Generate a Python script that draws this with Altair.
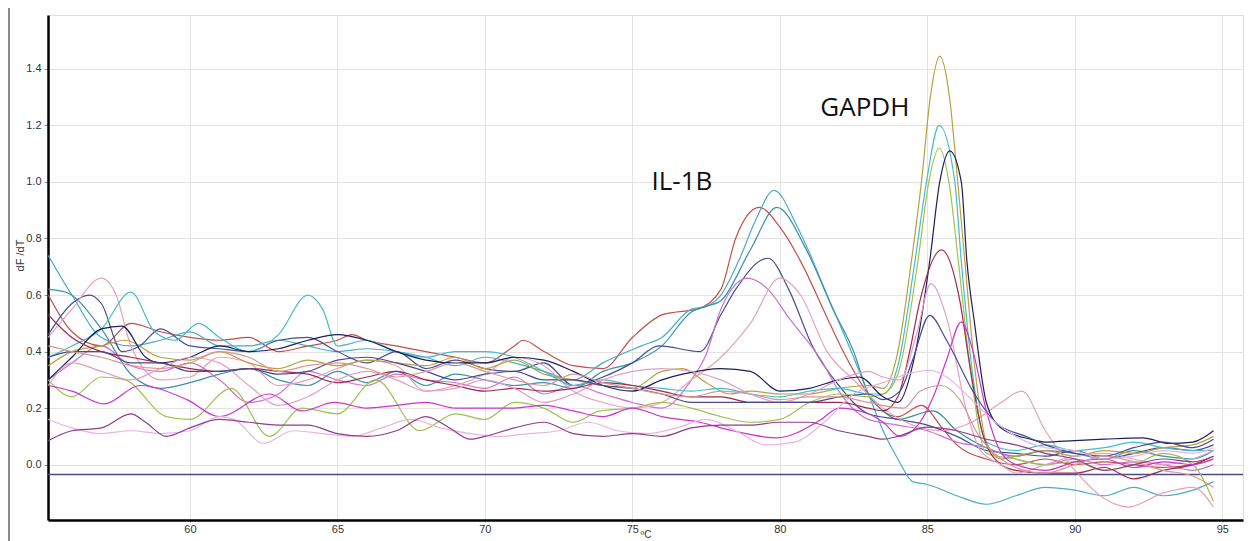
import altair as alt
import pandas as pd

# ---------------- data ----------------
t_s1 = [55.2,56,57,58,59,60,61,62,63,64,65,65.5,66,67,68,69,70,71,71.3,72,73,74,75,76,76.5,77.2,78,78.5,79.3,80,80.7,81.6,82.1,83,83.5,84,84.8,85.5,86,87,88,89,90,91,92,93,94,94.7]
v_s1 = [0.60,0.47,0.42,0.50,0.47,0.45,0.44,0.45,0.40,0.42,0.44,0.46,0.44,0.42,0.40,0.38,0.36,0.42,0.44,0.40,0.35,0.34,0.45,0.53,0.54,0.55,0.62,0.80,0.91,0.84,0.72,0.52,0.41,0.25,0.19,0.17,0.21,0.13,0.07,0.02,0.0,0.02,0.0,0.01,0.0,-0.01,0.0,0.02]

t_s2 = [55.2,56,57,58,59,60,61,62,63,64,65,66,67,68,69,70,71,72,73,74,75.3,76,77,77.5,78,78.6,79.2,79.8,80.6,81.6,82.5,83,83.5,84,84.5,85,86,87,88,89,90,91,92,93,94,94.7]
v_s2 = [0.74,0.60,0.45,0.42,0.44,0.47,0.42,0.42,0.44,0.42,0.40,0.41,0.40,0.38,0.35,0.38,0.36,0.33,0.30,0.36,0.42,0.45,0.55,0.56,0.60,0.72,0.87,0.97,0.84,0.60,0.38,0.25,0.12,0.02,-0.06,-0.07,-0.11,-0.14,-0.11,-0.08,-0.09,-0.11,-0.08,-0.11,-0.09,-0.06]

t_s3 = [55.2,55.8,57,58,59,60,61,62,63,64,65,66,67,68,69,70,71,72,73,74,75,76,77,77.5,78,79,79.9,80.9,81.8,82.5,83,83.5,84,85.2,86,87,88,89,90,91,92,93,94,94.7]
v_s3 = [0.62,0.61,0.48,0.32,0.27,0.29,0.32,0.34,0.30,0.28,0.33,0.29,0.33,0.28,0.32,0.30,0.28,0.29,0.27,0.33,0.36,0.42,0.54,0.56,0.58,0.76,0.91,0.76,0.55,0.40,0.25,0.19,0.16,0.19,0.12,0.06,0.03,0.05,0.04,0.02,0.05,0.03,0.02,0.05]

t_s4 = [55.2,56,56.6,57,57.7,58.3,59,60,61,62,63,64,65,66,67,68,69,70,71,72,73,74,75,75.9,77.3,78,78.5,79.6,80.3,81.1,82,83,84,85,86,87,88,89,90,91,92,93,94,94.7]
v_s4 = [0.46,0.57,0.60,0.57,0.40,0.42,0.48,0.42,0.41,0.40,0.44,0.45,0.40,0.36,0.40,0.34,0.37,0.34,0.33,0.36,0.28,0.31,0.36,0.42,0.40,0.53,0.62,0.73,0.62,0.42,0.28,0.18,0.16,0.14,0.10,0.05,0.04,0.03,0.05,0.02,0.04,0.06,0.05,0.07]

t_s5 = [55.2,56,57,58,59,60,61,62,63,64,65,66,67,68,69,70,71,72,73,74,75,76,77,77.5,78,78.9,79.6,80.3,81.4,82,83,84,85,86,87,88,89,90,91,92,93,94,94.7]
v_s5 = [0.30,0.36,0.42,0.35,0.33,0.36,0.30,0.22,0.25,0.33,0.30,0.28,0.32,0.30,0.29,0.27,0.31,0.25,0.28,0.25,0.22,0.20,0.30,0.39,0.55,0.66,0.62,0.52,0.37,0.26,0.16,0.14,0.12,0.08,0.06,0.02,0.0,0.02,0.0,0.01,0.0,-0.02,0.0]

t_s6 = [55.2,56,57,57.5,58,59,60,61,62,63,64,65,66,67,68,69,70,71,72,73,74,75,76,77,77.9,79,80,80.7,81.6,82.5,83.5,84.5,85.5,86.5,87.5,88.2,89,90,91,91.8,93,94,94.7]
v_s6 = [0.45,0.55,0.66,0.60,0.42,0.30,0.31,0.38,0.36,0.28,0.30,0.34,0.37,0.35,0.26,0.28,0.32,0.38,0.35,0.26,0.22,0.20,0.22,0.30,0.37,0.50,0.66,0.60,0.40,0.30,0.20,0.14,0.12,0.15,0.22,0.26,0.12,-0.02,-0.12,-0.15,-0.10,-0.08,-0.15]

t_s7 = [55.2,56,57,57.8,59,60,61,62,63,64,65,66,67,68,69,70,71,72,73,74,75,76,76.7,77.5,78.3,79,80,81,82,83,83.5,84,84.46,84.8,85.1,85.42,85.75,86.03,86.27,86.6,87,87.5,88,89,90,91,92,93,94,94.7]
v_s7 = [0.35,0.40,0.42,0.44,0.38,0.37,0.40,0.36,0.34,0.37,0.35,0.37,0.36,0.35,0.38,0.34,0.37,0.32,0.30,0.28,0.27,0.33,0.34,0.29,0.25,0.26,0.25,0.25,0.27,0.28,0.27,0.40,0.72,1.00,1.30,1.445,1.30,1.00,0.72,0.35,0.08,0.02,0.03,0.05,0.03,0.05,0.04,0.06,0.07,0.10]

t_s8 = [55.2,56,57,58,58.8,59.5,60.3,61,62,63,64,64.5,65,66,67,68,69,70,71,72,73,74,75,76,77,78,79,80,81,82,83,83.5,84,84.58,84.97,85.4,85.93,86.15,86.5,87,88,89,90,91,92,93,94,94.7]
v_s8 = [0.38,0.42,0.48,0.61,0.47,0.44,0.50,0.45,0.40,0.46,0.60,0.55,0.42,0.44,0.40,0.38,0.40,0.40,0.38,0.33,0.28,0.30,0.28,0.27,0.26,0.27,0.25,0.24,0.26,0.27,0.25,0.25,0.35,0.72,1.00,1.20,1.00,0.72,0.35,0.08,0.05,0.07,0.05,0.06,0.08,0.06,0.05,0.05]

t_s9 = [55.2,56,57,57.8,59.2,60,61.4,62.7,63.8,65,66.3,67.8,69,70,71,72,73,73.9,75,76,77,78,79,80,81,82,83,83.5,84,84.68,85.05,85.4,85.73,86.05,86.5,87,88,89,90,91,92,93,94,94.7]
v_s9 = [0.30,0.24,0.31,0.30,0.17,0.16,0.27,0.10,0.20,0.18,0.30,0.12,0.18,0.16,0.22,0.20,0.15,0.19,0.20,0.22,0.20,0.17,0.15,0.16,0.22,0.25,0.24,0.25,0.32,0.72,1.00,1.12,1.00,0.72,0.30,0.04,0.02,0.0,0.01,-0.02,0.0,0.04,0.0,-0.13]

t_s10 = [55.2,56,57,57.7,58.5,59,60,61,62,63,64,65,66,67,68,69,70,71,72,73,74,75,76,76.7,78,79,80,81,82,82.7,83.5,84,84.6,85.08,85.42,85.76,86.15,86.34,86.6,87,87.5,88.5,89,90,91,92.3,93.2,94,94.7]
v_s10 = [0.30,0.38,0.48,0.49,0.38,0.36,0.38,0.42,0.40,0.41,0.44,0.46,0.44,0.40,0.37,0.36,0.36,0.38,0.37,0.33,0.28,0.26,0.30,0.32,0.34,0.33,0.26,0.27,0.30,0.31,0.24,0.22,0.40,0.72,1.00,1.11,1.00,0.72,0.50,0.22,0.13,0.09,0.08,0.085,0.09,0.095,0.075,0.08,0.12]

t_s11 = [55.2,56,57,58,59,60,61,62,63,64,65,66,67,68,69,70,71,72,73,74,75,76,77,78,79,80,81,82,83,83.5,84,84.4,84.75,85.48,86.1,86.44,86.9,87.5,88,89,90,91,92,93,94,94.7]
v_s11 = [0.53,0.45,0.40,0.38,0.36,0.34,0.33,0.34,0.33,0.32,0.29,0.31,0.33,0.30,0.28,0.26,0.27,0.26,0.27,0.29,0.28,0.26,0.24,0.24,0.22,0.22,0.22,0.22,0.20,0.19,0.24,0.40,0.58,0.76,0.58,0.35,0.10,0.0,-0.02,-0.03,-0.03,-0.01,-0.05,-0.02,0.0,0.03]

t_s12 = [55.2,56,57,58,59,60,61,62,63,64,65,66,67,68,69,70,71,72,73,74,75,76,77,78,79,80,81,82,83,83.5,84.07,84.63,85.12,85.65,86.33,86.8,87.5,88,89,90,91,92,93,94,94.7]
v_s12 = [0.28,0.36,0.33,0.30,0.34,0.38,0.36,0.28,0.21,0.24,0.30,0.33,0.30,0.26,0.27,0.30,0.27,0.22,0.25,0.30,0.33,0.34,0.33,0.30,0.25,0.22,0.25,0.30,0.33,0.31,0.30,0.46,0.64,0.52,0.19,0.05,0.0,-0.03,0.0,0.03,0.04,0.02,0.0,0.02,0.05]

t_s13 = [55.2,56,57,58,59,60,61,62,63,64,65,66,67,68,69,70,71,72,73,74,75,76,77,78,79,80,81,82,83,83.5,84.07,84.5,85.08,85.65,86.6,87.35,88.4,89,90,91,92,93,94,94.7]
v_s13 = [0.38,0.40,0.40,0.36,0.36,0.33,0.33,0.34,0.32,0.33,0.37,0.38,0.36,0.33,0.30,0.32,0.33,0.30,0.30,0.28,0.27,0.25,0.22,0.22,0.22,0.22,0.22,0.24,0.25,0.23,0.26,0.37,0.528,0.44,0.25,0.146,0.098,0.07,0.04,0.03,0.06,0.08,0.06,0.09]

t_s14 = [55.2,56,57.1,58.3,59.9,61,62.7,63.8,64.9,66,67,68,69,70,71,72,73,74,75,76,77.3,78.4,79.9,81.4,82,83,83.5,84.07,84.75,85.2,85.65,86.15,86.55,87,87.46,88,89,90,91,92,93,94,94.7]
v_s14 = [0.28,0.26,0.215,0.28,0.23,0.17,0.25,0.19,0.22,0.20,0.21,0.22,0.20,0.20,0.20,0.21,0.19,0.17,0.20,0.17,0.15,0.12,0.095,0.16,0.20,0.18,0.15,0.10,0.15,0.24,0.37,0.505,0.40,0.19,0.05,0.0,-0.02,0.01,0.02,-0.01,0.01,0.0,0.02]

t_s15 = [55.2,56,57,58,59,60,61,61.5,62.5,63.5,64.5,65.5,66.5,67.5,68.5,69.5,70.5,71.5,72.5,73.5,74.5,75.5,76.5,77.5,78.5,79.5,80.5,81.5,82.5,83.5,84.3,85.1,85.65,86.5,87.35,88,89,90,91,92,93,94,94.7]
v_s15 = [0.16,0.13,0.11,0.12,0.11,0.12,0.17,0.16,0.075,0.12,0.11,0.10,0.13,0.16,0.13,0.11,0.10,0.11,0.12,0.15,0.12,0.11,0.13,0.16,0.12,0.07,0.08,0.15,0.25,0.29,0.32,0.334,0.31,0.23,0.146,0.10,0.06,0.05,0.02,0.03,0.05,0.04,0.06]

t_s16 = [55.2,56,57,58,59,60,61,62,63,64,65,66,67,68,69,70,71,72,73,74,75,76,77,78,79,80,81,82,83,84.2,84.75,85.47,86.1,86.7,87.5,88,89,90,91,92,93,94,94.7]
v_s16 = [0.42,0.40,0.38,0.35,0.34,0.36,0.40,0.38,0.33,0.35,0.36,0.34,0.31,0.33,0.36,0.33,0.30,0.28,0.32,0.29,0.27,0.25,0.24,0.26,0.25,0.23,0.24,0.24,0.22,0.20,0.26,0.28,0.23,0.11,0.02,-0.01,-0.03,0.0,0.03,0.01,-0.02,-0.04,-0.08]

t_s17 = [55.2,56,57,58,58.5,59.2,60,61,62,63,64,65,66,67,68,68.8,69.5,70,71,72,73,74,75,76,77,78,79,80,81,82,83,83.5,84,85,86,87,88,89,90,91,92,93,94,94.7]
v_s17 = [0.085,0.12,0.13,0.18,0.15,0.10,0.13,0.16,0.15,0.14,0.14,0.11,0.10,0.12,0.17,0.13,0.09,0.10,0.13,0.15,0.11,0.10,0.11,0.10,0.13,0.14,0.14,0.15,0.15,0.12,0.10,0.09,0.10,0.133,0.12,0.09,0.07,0.04,0.02,-0.02,0.0,0.02,0.01,0.03]

series_names = ["s1", "s2", "s3", "s4", "s5", "s6", "s7", "s8", "s9",
                "s10", "s11", "s12", "s13", "s14", "s15", "s16", "s17"]
series_colors = ["#c0504d", "#4bacc6", "#3a90a8", "#45508e", "#d070d0", "#e8a0b8",
                 "#b8a040", "#45bccb", "#a0c050", "#1e1e5c", "#a0284a", "#e0a0c8",
                 "#4a4a92", "#cc33cc", "#e8b4e2", "#d89890", "#8e3c8e"]
series_t = [t_s1, t_s2, t_s3, t_s4, t_s5, t_s6, t_s7, t_s8, t_s9,
            t_s10, t_s11, t_s12, t_s13, t_s14, t_s15, t_s16, t_s17]
series_v = [v_s1, v_s2, v_s3, v_s4, v_s5, v_s6, v_s7, v_s8, v_s9,
            v_s10, v_s11, v_s12, v_s13, v_s14, v_s15, v_s16, v_s17]

threshold = [-0.035]

label_text = ["IL-1B", "GAPDH"]
label_t = [76.68, 82.88]
label_v = [1.00, 1.263]

x_ticks = [60, 65, 70, 75, 80, 85, 90, 95]
y_ticks = [0.0, 0.2, 0.4, 0.6, 0.8, 1.0, 1.2, 1.4]

# ---------------- tables ----------------
rows = []
for name, ts, vs in zip(series_names, series_t, series_v):
    for i, (t, v) in enumerate(zip(ts, vs)):
        rows.append({"series": name, "t": t, "v": v, "i": i})
df = pd.DataFrame(rows)
thr_df = pd.DataFrame({"v": threshold})
lab_df = pd.DataFrame({"label": label_text, "t": label_t, "v": label_v})

W, H = 1195, 505
xscale = alt.Scale(domain=[55.19, 95.70], nice=False, zero=False)
yscale = alt.Scale(domain=[-0.1957, 1.5904], nice=False, zero=False)

lines = alt.Chart(df).mark_line(interpolate="monotone", strokeWidth=1.2, clip=True).encode(
    x=alt.X("t:Q", scale=xscale,
            axis=alt.Axis(values=x_ticks, format="d", title="ºC", grid=True,
                          gridColor="#e3e3e3", tickSize=2, tickColor="#b0b0b0",
                          domainColor="#000000", domainWidth=2.5, labelPadding=1,
                          labelFont="Liberation Sans", labelFontSize=11, labelColor="#333333",
                          titleFont="Liberation Sans", titleFontSize=10, titleFontWeight="normal",
                          titleColor="#333333", titleY=9, titleBaseline="top")),
    y=alt.Y("v:Q", scale=yscale,
            axis=alt.Axis(values=y_ticks, format=".1f", title="dF /dT", grid=True,
                          gridColor="#e3e3e3", tickSize=4, tickColor="#909090",
                          domainColor="#000000", domainWidth=2.5, labelPadding=3,
                          labelFont="Liberation Sans", labelFontSize=11, labelColor="#333333",
                          titleFont="Liberation Sans", titleFontSize=11, titleFontWeight="normal",
                          titleColor="#333333", titleX=-28, titleY=240, titleAngle=270,
                          titleAlign="center", titleBaseline="middle")),
    color=alt.Color("series:N", scale=alt.Scale(domain=series_names, range=series_colors), legend=None),
    order=alt.Order("i:Q"),
)

thr = alt.Chart(thr_df).mark_rule(color="#4b4b88", strokeWidth=1.6).encode(y=alt.Y("v:Q", scale=yscale))

labels = alt.Chart(lab_df).mark_text(font="Open Sans", fontSize=26, color="#111111",
                                     align="center", baseline="middle").encode(
    x=alt.X("t:Q", scale=xscale), y=alt.Y("v:Q", scale=yscale), text="label:N")

edge = alt.Chart(thr_df).mark_rule(color="#8a8a8a", strokeWidth=2).encode(
    x=alt.value(-39), y=alt.value(-7), y2=alt.value(526))

chart = alt.layer(thr, lines, labels, edge).properties(
    width=W, height=H,
    padding={"left": 40, "top": 7, "right": 1, "bottom": 21},
    autosize=alt.AutoSizeParams(type="none"),
).configure_view(stroke="#333333", strokeWidth=1).configure(background="white")

chart.save("out.html", embed_options={"renderer": "svg", "actions": False})
